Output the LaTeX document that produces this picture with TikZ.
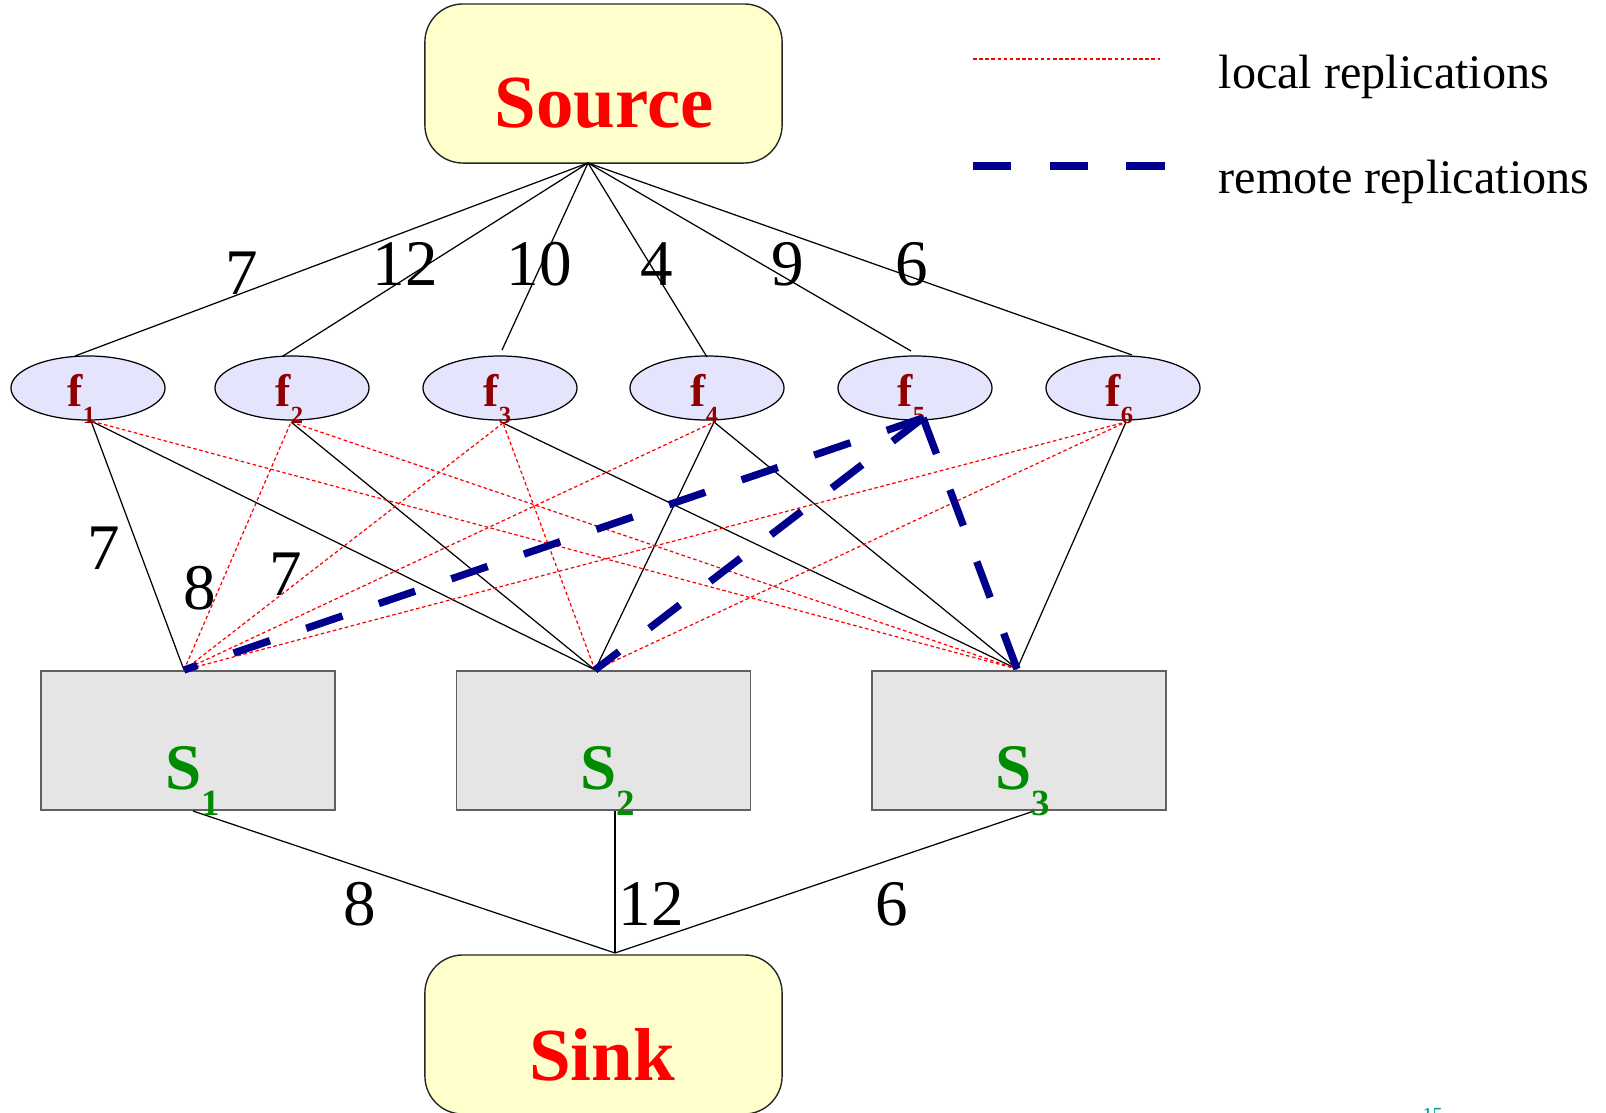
\documentclass[tikz,border=0pt]{standalone}
\usepackage{fontspec}
\setmainfont{Liberation Serif}
\usetikzlibrary{shapes.geometric}

\definecolor{termfill}{RGB}{255,255,204}
\definecolor{flowfill}{RGB}{228,228,252}
\definecolor{sitefill}{RGB}{229,229,229}
\definecolor{siteedge}{RGB}{96,96,96}
\definecolor{flowtext}{RGB}{144,0,0}
\definecolor{sitetext}{RGB}{0,140,0}
\definecolor{remoteblue}{RGB}{0,0,140}
\definecolor{pagetext}{RGB}{0,150,150}

\begin{document}
\begin{tikzpicture}[x=0.01cm,y=-0.01cm,
  wire/.style={black,line width=0.35pt},
  localrep/.style={red,line width=0.35pt,dash pattern=on 1pt off 0.75pt},
  remoterep/.style={remoteblue,line width=2.1pt,dash pattern=on 10.9pt off 10.9pt},
  termbox/.style={draw=black!85,line width=0.4pt,fill=termfill,rounded corners=0.38cm,
    minimum width=3.57cm,minimum height=1.59cm,inner sep=0pt},
  flownode/.style={ellipse,draw=black,line width=0.35pt,fill=flowfill,
    minimum width=1.54cm,minimum height=0.64cm,inner sep=0pt},
  sitebox/.style={draw=siteedge,line width=0.45pt,fill=sitefill,
    minimum width=2.94cm,minimum height=1.39cm,inner sep=0pt},
  termlabel/.style={text=red,font=\fontsize{21.3}{24}\selectfont\bfseries,anchor=base,inner sep=0pt},
  flowlabel/.style={text=flowtext,font=\fontsize{13}{14}\selectfont\bfseries,anchor=base west,inner sep=0pt},
  sitelabel/.style={text=sitetext,font=\fontsize{18.5}{20}\selectfont\bfseries,anchor=base west,inner sep=0pt},
  weight/.style={font=\fontsize{18.5}{20}\selectfont,anchor=base,inner sep=0pt},
  legendtext/.style={font=\fontsize{13.7}{16}\selectfont,anchor=base west,inner sep=0pt}]

\useasboundingbox (0,0) rectangle (1606,1112);

% terminals
\node[termbox] (source) at (603.5,83.5) {};
\node[termbox] (sink) at (603.5,1034.5) {};

% flows
\node[flownode] (f1) at (88,388) {};
\node[flownode] (f2) at (292,388) {};
\node[flownode] (f3) at (500,388) {};
\node[flownode] (f4) at (707,388) {};
\node[flownode] (f5) at (915,388) {};
\node[flownode] (f6) at (1123,388) {};

% sites
\node[sitebox] (s1) at (188,740.5) {};
\node[sitebox] (s2) at (603.5,740.5) {};
\node[sitebox] (s3) at (1019,740.5) {};

% attachment points
\coordinate (srcb) at (588,163);
\coordinate (f1t) at (75,356);   \coordinate (f1b) at (91,421);
\coordinate (f2t) at (283,356);  \coordinate (f2b) at (291,422);
\coordinate (f3t) at (502,350);  \coordinate (f3b) at (503,423);
\coordinate (f4t) at (707,357);  \coordinate (f4b) at (714,422);
\coordinate (f5t) at (911,351);  \coordinate (f5b) at (923,418);
\coordinate (f6t) at (1132,355); \coordinate (f6b) at (1126,422);
\coordinate (s1t) at (184,670);  \coordinate (s1b) at (193,811);
\coordinate (s2t) at (595,670);  \coordinate (s2b) at (615,811);
\coordinate (s3t) at (1017,669); \coordinate (s3b) at (1034,811);
\coordinate (snkt) at (615,953);

% source to flows
\foreach \k in {1,...,6} \draw[wire] (srcb) -- (f\k t);

% flows to sites
\draw[wire] (f1b) -- (s1t);
\draw[wire] (f1b) -- (s2t);
\draw[wire] (f2b) -- (s2t);
\draw[wire] (f3b) -- (s3t);
\draw[wire] (f4b) -- (s2t);
\draw[wire] (f4b) -- (s3t);
\draw[wire] (f6b) -- (s3t);

% local replications
\draw[localrep] (s1t) -- (f2b);
\draw[localrep] (s1t) -- (f3b);
\draw[localrep] (s1t) -- (f4b);
\draw[localrep] (s1t) -- (f6b);
\draw[localrep] (s2t) -- (f3b);
\draw[localrep] (s2t) -- (f6b);
\draw[localrep] (s3t) -- (f1b);
\draw[localrep] (s3t) -- (f2b);

% sites to sink
\draw[wire] (s1b) -- (snkt);
\draw[wire] (s2b) -- (snkt);
\draw[wire] (s3b) -- (snkt);

% texts
\node[termlabel] (srctext) at (604,127) {Source};
\node[termlabel] (snktext) at (602,1080) {Sink};

\node[flowlabel] (f1l) at (67,406) {f\raisebox{-0.17cm}{\fontsize{7}{8}\selectfont 1}};
\node[flowlabel] (f2l) at (275,406) {f\raisebox{-0.17cm}{\fontsize{7}{8}\selectfont 2}};
\node[flowlabel] (f3l) at (483,406) {f\raisebox{-0.17cm}{\fontsize{7}{8}\selectfont 3}};
\node[flowlabel] (f4l) at (690,406) {f\raisebox{-0.17cm}{\fontsize{7}{8}\selectfont 4}};
\node[flowlabel] (f5l) at (897,406) {f\raisebox{-0.17cm}{\fontsize{7}{8}\selectfont 5}};
\node[flowlabel] (f6l) at (1105,406) {f\raisebox{-0.17cm}{\fontsize{7}{8}\selectfont 6}};

\node[sitelabel] (s1l) at (165,789) {S\raisebox{-0.26cm}{\fontsize{10.5}{12}\selectfont 1}};
\node[sitelabel] (s2l) at (580,789) {S\raisebox{-0.26cm}{\fontsize{10.5}{12}\selectfont 2}};
\node[sitelabel] (s3l) at (995,789) {S\raisebox{-0.26cm}{\fontsize{10.5}{12}\selectfont 3}};

% edge weights
\node[weight] (w1) at (242,294) {7};
\node[weight] (w2) at (405,285) {12};
\node[weight] (w3) at (539,285) {10};
\node[weight] (w4) at (657,285) {4};
\node[weight] (w5) at (788,285) {9};
\node[weight] (w6) at (912,285) {6};
\node[weight] (w7) at (104,569) {7};
\node[weight] (w8) at (200,609) {8};
\node[weight] (w9) at (286,595) {7};
\node[weight] (w10) at (360,925) {8};
\node[weight] (w11) at (651,925) {12};
\node[weight] (w12) at (892,925) {6};

% remote replications
\draw[remoterep] (f5b) -- (s1t);
\draw[remoterep] (f5b) -- (s2t);
\draw[remoterep] (f5b) -- (s3t);

% legend
\coordinate (lga) at (973,59);  \coordinate (lgb) at (1160,59);
\coordinate (lgc) at (973,166); \coordinate (lgd) at (1165,166);
\draw[localrep] (lga) -- (lgb);
\draw[remoterep] (lgc) -- (lgd);
\node[legendtext] (lgt1) at (1218,88) {local replications};
\node[legendtext] (lgt2) at (1218,193) {remote replications};

% page number
\node[text=pagetext,font=\fontsize{5.7}{7}\selectfont,anchor=base west,inner sep=0pt] (pagenum) at (1422,1121) {15};
\end{tikzpicture}
\end{document}
